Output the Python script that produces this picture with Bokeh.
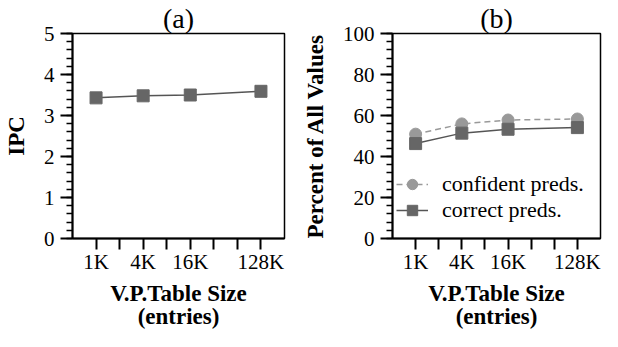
from bokeh.plotting import figure
from bokeh.layouts import row
from bokeh.models import Range1d, FixedTicker, SingleIntervalTicker
from bokeh.embed import file_html
from bokeh.resources import INLINE

# ---- data ----
table_sizes = [1024, 4096, 16384, 131072]
ipc = [3.43, 3.48, 3.50, 3.59]
confident_preds = [50.9, 55.9, 57.8, 58.3]
correct_preds = [46.3, 51.4, 53.3, 54.1]
tick_values = [1024, 2048, 4096, 8192, 16384, 32768, 65536, 131072]
tick_labels = ["1K", "", "4K", "", "16K", "", "", "128K"]

FONT = "'Liberation Serif'"


def make_fig(title, ylabel, yrange, yinterval, width, left, right):
    p = figure(width=width, height=331, x_axis_type="log",
               x_range=Range1d(512, 262144), y_range=Range1d(*yrange),
               output_backend="svg", toolbar_location=None,
               min_border_left=left, min_border_right=right,
               min_border_top=32, min_border_bottom=89)
    p.title.text = title
    p.title.align = "center"
    p.title.text_font = FONT
    p.title.text_font_size = "28px"
    p.title.text_font_style = "normal"
    p.title.text_color = "black"
    p.title.standoff = 0
    p.xgrid.visible = False
    p.ygrid.visible = False
    p.outline_line_color = "black"
    p.outline_line_width = 1.5
    p.outline_line_alpha = 1
    p.background_fill_color = "white"
    p.border_fill_color = "white"

    xa = p.xaxis[0]
    xa.ticker = FixedTicker(ticks=tick_values, minor_ticks=[])
    xa.major_label_overrides = {v: l for v, l in zip(tick_values, tick_labels)}
    xa.axis_label = "V.P.Table Size\n(entries)"
    xa.axis_label_text_line_height = 0.93
    xa.major_tick_out = 11
    xa.major_tick_in = 0
    xa.minor_tick_out = 0
    xa.minor_tick_in = 0

    ya = p.yaxis[0]
    ya.ticker = SingleIntervalTicker(interval=yinterval, num_minor_ticks=5)
    ya.axis_label = ylabel
    ya.major_tick_out = 12
    ya.major_tick_in = 0
    ya.minor_tick_out = 6
    ya.minor_tick_in = 0

    for ax in (xa, ya):
        ax.axis_line_width = 2
        ax.axis_line_color = "black"
        ax.major_tick_line_width = 2
        ax.major_tick_line_color = "black"
        ax.minor_tick_line_width = 1.5
        ax.minor_tick_line_color = "black"
        ax.major_label_text_font = FONT
        ax.major_label_text_font_size = "21px"
        ax.major_label_text_color = "black"
        ax.axis_label_text_font = FONT
        ax.axis_label_text_font_size = "23px"
        ax.axis_label_text_font_style = "bold"
        ax.axis_label_text_color = "black"
    xa.major_label_standoff = 0
    ya.major_label_standoff = 6
    xa.axis_label_standoff = 4
    ya.axis_label_standoff = 12
    return p


pa = make_fig("(a)", "IPC", (0, 5), 1, 298, 70, 14)
pa.line(table_sizes, ipc, line_color="#555555", line_width=1.5)
pa.scatter(table_sizes, ipc, marker="square", size=12,
           fill_color="#666666", line_color="#666666")

pb = make_fig("(b)", "Percent of All Values", (0, 100), 20, 304, 94, 2)
pb.line(table_sizes, confident_preds, line_color="#999999", line_width=1.5,
        line_dash="6 4", legend_label="confident preds.")
pb.scatter(table_sizes, confident_preds, marker="circle", size=12,
           fill_color="#999999", line_color="#999999",
           legend_label="confident preds.")
pb.line(table_sizes, correct_preds, line_color="#555555", line_width=1.5,
        legend_label="correct preds.")
pb.scatter(table_sizes, correct_preds, marker="square", size=12,
           fill_color="#666666", line_color="#666666",
           legend_label="correct preds.")

lg = pb.legend[0]
lg.location = (4, 15)
lg.border_line_color = None
lg.background_fill_alpha = 0
lg.margin = 0
lg.padding = 0
lg.spacing = 0
lg.glyph_width = 32
lg.glyph_height = 26
lg.label_height = 26
lg.label_standoff = 14
lg.label_text_font = FONT
lg.label_text_font_size = "22px"
lg.label_text_color = "black"

layout = row(pa, pb)
open("out.html", "w").write(file_html(layout, INLINE))
